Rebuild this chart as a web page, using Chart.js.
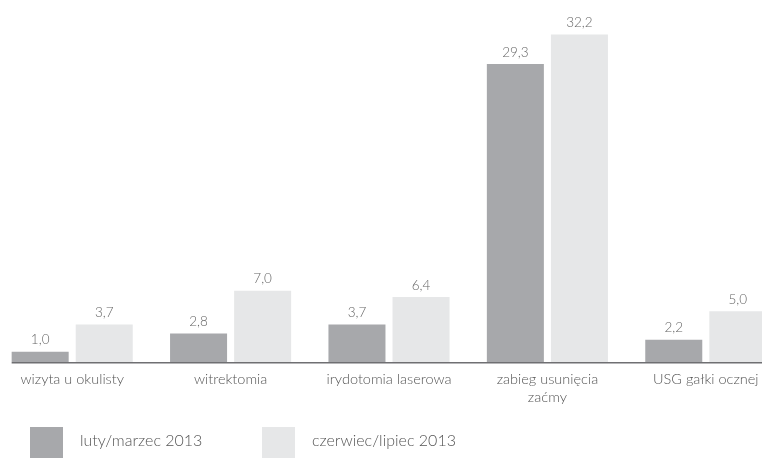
<!DOCTYPE html>
<html>
<head>
<meta charset="utf-8">
<script src="https://cdn.jsdelivr.net/npm/chart.js@4.4.1/dist/chart.umd.min.js"></script>
<style>
  html, body { margin: 0; padding: 0; background: #fff; overflow: hidden; }
  #wrap { position: absolute; left: -7px; top: 0; width: 792px; height: 458px; }
</style>
</head>
<body>
<div id="wrap"><canvas id="chart"></canvas></div>
<script>
var categories = ["wizyta u okulisty", "witrektomia", "irydotomia laserowa", ["zabieg usunięcia", "zaćmy"], "USG gałki ocznej"];
var seriesNames = ["luty/marzec 2013", "czerwiec/lipiec 2013"];
var febMar = [1.0, 2.8, 3.7, 29.3, 2.2];
var junJul = [3.7, 7.0, 6.4, 32.2, 5.0];
var seriesColors = ["#a7a8ab", "#e6e7e8"];

var FONT = "Lato, 'DejaVu Sans', sans-serif";

function fmt(v) {
    return v.toFixed(1).replace(".", ",");
}

// numbers above the bars, base line and the legend at the bottom
var extras = {
    id: "extras",
    afterDatasetsDraw: function (chart) {
        var ctx = chart.ctx;
        ctx.save();
        ctx.font = "300 13.5px " + FONT;
        ctx.fillStyle = "#666";
        ctx.textAlign = "center";
        ctx.textBaseline = "bottom";
        chart.data.datasets.forEach(function (ds, i) {
            chart.getDatasetMeta(i).data.forEach(function (bar, j) {
                ctx.fillText(fmt(ds.data[j]), bar.x, bar.y - 5);
            });
        });
        // base line
        var first = chart.getDatasetMeta(0).data[0];
        var y0 = chart.scales.y.getPixelForValue(0);
        ctx.strokeStyle = "#6f6f72";
        ctx.lineWidth = 1.6;
        ctx.beginPath();
        ctx.moveTo(first.x - first.width / 2, y0 + 0.8);
        ctx.lineTo(chart.width, y0 + 0.8);
        ctx.stroke();
        // legend
        var lx = [37, 269];
        ctx.font = "300 16px " + FONT;
        ctx.textAlign = "left";
        ctx.textBaseline = "middle";
        for (var k = 0; k < seriesNames.length; k++) {
            ctx.fillStyle = seriesColors[k];
            ctx.fillRect(lx[k], 427, 33, 31);
            ctx.fillStyle = "#555";
            ctx.fillText(seriesNames[k], lx[k] + 50, 441);
        }
        ctx.restore();
    }
};

new Chart(document.getElementById("chart"), {
    type: "bar",
    data: {
        labels: categories,
        datasets: [
            { label: seriesNames[0], data: febMar, backgroundColor: seriesColors[0] },
            { label: seriesNames[1], data: junJul, backgroundColor: seriesColors[1] }
        ]
    },
    options: {
        responsive: true,
        maintainAspectRatio: false,
        animation: false,
        layout: { padding: 0 },
        categoryPercentage: 0.809,
        barPercentage: 0.89,
        plugins: {
            legend: { display: false },
            tooltip: { enabled: false }
        },
        scales: {
            x: {
                grid: { display: false, drawTicks: false },
                border: { display: false },
                ticks: {
                    color: "#555",
                    font: { family: FONT, size: 14.5, weight: 300 },
                    padding: 9,
                    maxRotation: 0,
                    autoSkip: false
                },
                afterFit: function (scale) { scale.height = 96; }
            },
            y: {
                display: false,
                min: 0,
                max: 35.6
            }
        }
    },
    plugins: [extras]
});
</script>
</body>
</html>
